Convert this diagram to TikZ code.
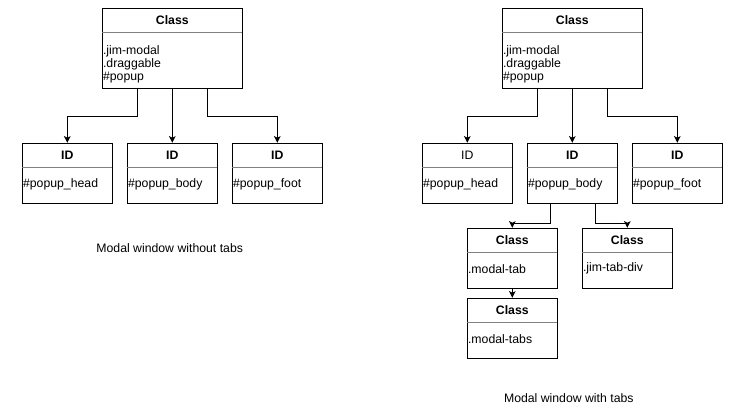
\documentclass[tikz,border=0pt]{standalone}
\usepackage{fontspec}
\setmainfont{Liberation Sans}
\usetikzlibrary{calc,arrows.meta}
\begin{document}
\begin{tikzpicture}[x=0.75pt,y=-0.75pt,
  box/.style={draw, line width=0.75pt, minimum width=67.5pt, minimum height=45pt, inner sep=0pt},
  bigbox/.style={box, minimum width=105pt, minimum height=60pt},
  ttl/.style={font=\fontsize{9.2}{10}\selectfont\bfseries, inner sep=0pt},
  ttlplain/.style={font=\fontsize{9.2}{10}\selectfont, inner sep=0pt},
  txt/.style={font=\fontsize{9.2}{10.1}\selectfont, inner sep=0pt, anchor=west, align=left},
  captext/.style={font=\fontsize{9.2}{10}\selectfont, inner sep=0pt},
  sep/.style={draw=gray, line width=0.75pt},
  conn/.style={line width=0.75pt, -{Stealth[length=5pt,width=5pt,inset=1.2pt]}}
]
\useasboundingbox (0,0) rectangle (739,413);

% ---------- boxes ----------
\node[bigbox] (cls1) at (172.3,48.3) {};
\node[box] (lid1) at (67.3,173.3) {};
\node[box] (lid2) at (172.3,173.3) {};
\node[box] (lid3) at (277.3,173.3) {};

\node[bigbox] (cls2) at (572.3,48.3) {};
\node[box] (rid1) at (467.3,173.3) {};
\node[box] (rid2) at (572.3,173.3) {};
\node[box] (rid3) at (677.3,173.3) {};
\node[box] (tab) at (512.3,258.3) {};
\node[box] (tabdiv) at (627.3,258.3) {};
\node[box] (tabs) at (512.3,328.3) {};

% ---------- separators ----------
\foreach \b in {cls1,cls2,lid1,lid2,lid3,rid1,rid2,rid3,tab,tabdiv,tabs}{
  \draw[sep] ($(\b.north west)+(0.5,25)$) -- ($(\b.north east)+(-0.5,25)$);
}

% ---------- texts ----------
\node[ttl] (cls1t) at ($(cls1.north)+(0,12)$) {Class};
\node[txt] (cls1x) at ($(cls1.north west)+(1,56.5)$) {.jim-modal\\.draggable\\\#popup};
\node[ttl] (lid1t) at ($(lid1.north)+(0,12.2)$) {ID};
\node[txt] (lid1x) at ($(lid1.north west)+(1,42)$) {\#popup\_head};
\node[ttl] (lid2t) at ($(lid2.north)+(0,12.2)$) {ID};
\node[txt] (lid2x) at ($(lid2.north west)+(1,42)$) {\#popup\_body};
\node[ttl] (lid3t) at ($(lid3.north)+(0,12.2)$) {ID};
\node[txt] (lid3x) at ($(lid3.north west)+(1,42)$) {\#popup\_foot};

\node[ttl] (cls2t) at ($(cls2.north)+(0,12)$) {Class};
\node[txt] (cls2x) at ($(cls2.north west)+(1,56.5)$) {.jim-modal\\.draggable\\\#popup};
\node[ttlplain] (rid1t) at ($(rid1.north)+(0,12.2)$) {ID};
\node[txt] (rid1x) at ($(rid1.north west)+(1,42)$) {\#popup\_head};
\node[ttl] (rid2t) at ($(rid2.north)+(0,12.2)$) {ID};
\node[txt] (rid2x) at ($(rid2.north west)+(1,42)$) {\#popup\_body};
\node[ttl] (rid3t) at ($(rid3.north)+(0,12.2)$) {ID};
\node[txt] (rid3x) at ($(rid3.north west)+(1,42)$) {\#popup\_foot};
\node[ttl] (tabt) at ($(tab.north)+(0,12)$) {Class};
\node[txt] (tabx) at ($(tab.north west)+(1,41)$) {.modal-tab};
\node[ttl] (tabdivt) at ($(tabdiv.north)+(0,12)$) {Class};
\node[txt] (tabdivx) at ($(tabdiv.north west)+(1,41)$) {.jim-tab-div};
\node[ttl] (tabst) at ($(tabs.north)+(0,12)$) {Class};
\node[txt] (tabsx) at ($(tabs.north west)+(1,41)$) {.modal-tabs};

\node[captext] (cap1) at (169.7,248.2) {Modal window without tabs};
\node[captext] (cap2) at (568.8,398.2) {Modal window with tabs};

% ---------- connectors ----------
\draw[conn] ($(cls1.south)+(-35,0)$) -- ++(0,28) -| (lid1.north);
\draw[conn] (cls1.south) -- (lid2.north);
\draw[conn] ($(cls1.south)+(35,0)$) -- ++(0,28) -| (lid3.north);

\draw[conn] ($(cls2.south)+(-35,0)$) -- ++(0,28) -| (rid1.north);
\draw[conn] (cls2.south) -- (rid2.north);
\draw[conn] ($(cls2.south)+(35,0)$) -- ++(0,28) -| (rid3.north);

\draw[conn] ($(rid2.south)+(-21.6,0)$) -- ++(0,20) -| (tab.north);
\draw[conn] ($(rid2.south)+(23.4,0)$) -- ++(0,20) -| (tabdiv.north);
\draw[conn] (tab.south) -- (tabs.north);
\end{tikzpicture}
\end{document}
